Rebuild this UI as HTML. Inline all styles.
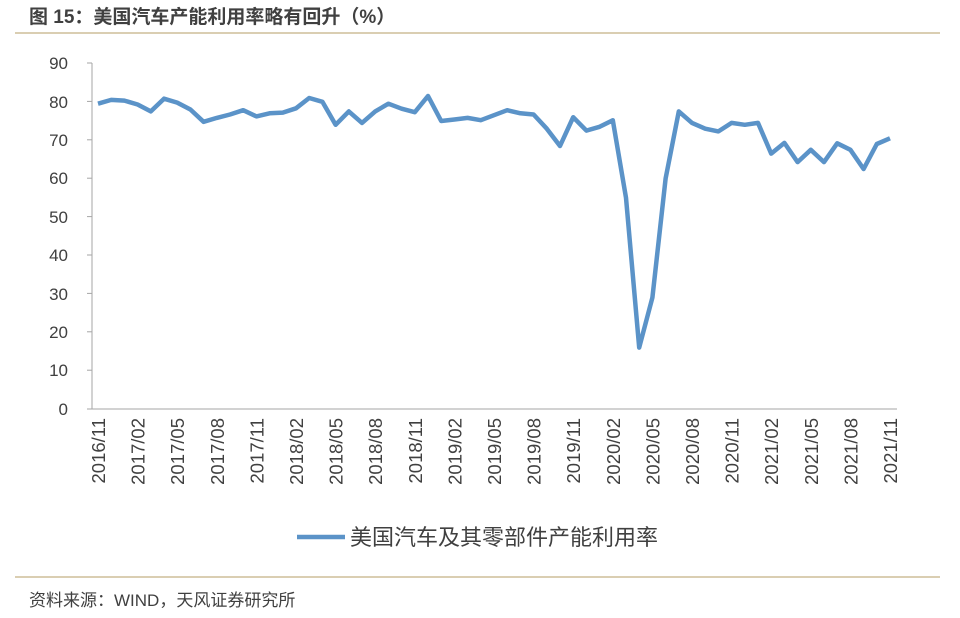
<!DOCTYPE html><html><head><meta charset="utf-8"><style>body{margin:0;background:#fff}svg{display:block}text{font-family:"Liberation Sans","Noto Sans CJK SC",sans-serif}</style></head><body>
<svg width="960" height="618" viewBox="0 0 960 618">
<text x="29" y="23" font-size="19" font-weight="bold" fill="#404040">图 15：美国汽车产能利用率略有回升（%）</text>
<line x1="15" y1="33" x2="940" y2="33" stroke="#cdbd98" stroke-width="1.5"/>
<line x1="15" y1="577" x2="940" y2="577" stroke="#cdbd98" stroke-width="1.5"/>
<text x="29" y="606" font-size="17" fill="#404040">资料来源：WIND，天风证券研究所</text>
<g stroke="#a6a6a6" stroke-width="1">
<line x1="92" y1="63" x2="92" y2="409"/><line x1="92" y1="409" x2="897" y2="409"/>
<line x1="87" y1="63" x2="92" y2="63"/><line x1="87" y1="101.4" x2="92" y2="101.4"/><line x1="87" y1="139.8" x2="92" y2="139.8"/><line x1="87" y1="178.2" x2="92" y2="178.2"/><line x1="87" y1="216.6" x2="92" y2="216.6"/><line x1="87" y1="255" x2="92" y2="255"/><line x1="87" y1="293.4" x2="92" y2="293.4"/><line x1="87" y1="331.8" x2="92" y2="331.8"/><line x1="87" y1="370.2" x2="92" y2="370.2"/><line x1="87" y1="409" x2="92" y2="409"/>
</g>
<g font-size="17" fill="#404040" text-anchor="end">
<text x="68" y="69">90</text><text x="68" y="108">80</text><text x="68" y="146">70</text><text x="68" y="184">60</text><text x="68" y="223">50</text><text x="68" y="261">40</text><text x="68" y="300">30</text><text x="68" y="338">20</text><text x="68" y="376">10</text><text x="68" y="415">0</text>
</g>
<g font-size="18.5" fill="#404040" text-anchor="end">
<text transform="translate(105,418) rotate(-90)">2016/11</text>
<text transform="translate(144.6,418) rotate(-90)">2017/02</text>
<text transform="translate(184.2,418) rotate(-90)">2017/05</text>
<text transform="translate(223.8,418) rotate(-90)">2017/08</text>
<text transform="translate(263.4,418) rotate(-90)">2017/11</text>
<text transform="translate(303,418) rotate(-90)">2018/02</text>
<text transform="translate(342.6,418) rotate(-90)">2018/05</text>
<text transform="translate(382.2,418) rotate(-90)">2018/08</text>
<text transform="translate(421.8,418) rotate(-90)">2018/11</text>
<text transform="translate(461.4,418) rotate(-90)">2019/02</text>
<text transform="translate(501,418) rotate(-90)">2019/05</text>
<text transform="translate(540.6,418) rotate(-90)">2019/08</text>
<text transform="translate(580.2,418) rotate(-90)">2019/11</text>
<text transform="translate(619.8,418) rotate(-90)">2020/02</text>
<text transform="translate(659.4,418) rotate(-90)">2020/05</text>
<text transform="translate(699,418) rotate(-90)">2020/08</text>
<text transform="translate(738.6,418) rotate(-90)">2020/11</text>
<text transform="translate(778.2,418) rotate(-90)">2021/02</text>
<text transform="translate(817.8,418) rotate(-90)">2021/05</text>
<text transform="translate(857.4,418) rotate(-90)">2021/08</text>
<text transform="translate(897,418) rotate(-90)">2021/11</text>
</g>
<polyline fill="none" stroke="#5b93c8" stroke-width="4.5" stroke-linejoin="round" points="98,103.7 111.2,99.9 124.4,100.6 137.6,104.5 150.8,111.4 164,98.7 177.2,102.6 190.4,109.5 203.6,121.8 216.8,117.9 230,114.5 243.2,110.2 256.4,116.4 269.6,113.3 282.8,112.6 296,108.3 309.2,98 322.4,101.8 335.6,124.8 348.8,111.4 362,122.9 375.2,111.4 388.4,103.7 401.6,108.7 414.8,112.2 428,96 441.2,121 454.4,119.5 467.6,117.9 480.8,120.2 494,115.2 507.2,110.2 520.4,113.3 533.6,114.5 546.8,128.7 560,146 573.2,117.2 586.4,130.6 599.6,126.8 612.8,120.2 626,197.8 639.2,347.6 652.4,297.6 665.6,178.6 678.8,111.4 692,122.9 705.2,128.7 718.4,131.4 731.6,122.9 744.8,124.8 758,122.9 771.2,153.6 784.4,142.9 797.6,162.1 810.8,149.8 824,162.1 837.2,143.3 850.4,149.8 863.6,169 876.8,144 890,138.3"/>
<line x1="297" y1="537" x2="345" y2="537" stroke="#5b93c8" stroke-width="4.5"/>
<text x="350" y="545" font-size="22" fill="#404040">美国汽车及其零部件产能利用率</text>
</svg></body></html>
